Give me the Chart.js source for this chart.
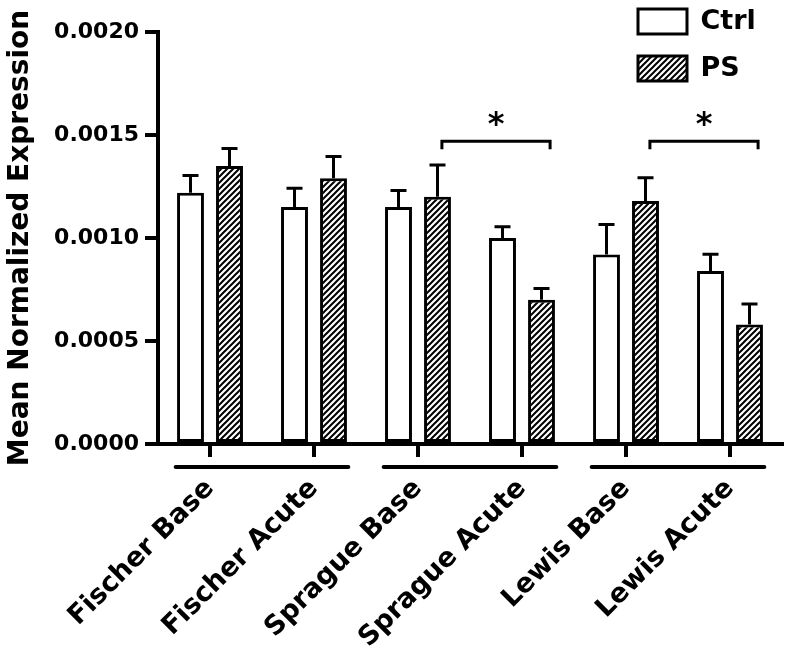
<!DOCTYPE html>
<html><head><meta charset="utf-8">
<script src="https://cdn.jsdelivr.net/npm/chart.js@4.4.0/dist/chart.umd.min.js"></script>
<style>html,body{margin:0;padding:0;background:#fff}</style>
</head><body>
<canvas id="c" width="788" height="648"></canvas>
<script>
const categories = ['Fischer Base','Fischer Acute','Sprague Base','Sprague Acute','Lewis Base','Lewis Acute'];
const ctrlMean = [0.00122, 0.00115, 0.00115, 0.00100, 0.00092, 0.00084];
const ctrlErr  = [0.000084, 0.000091, 0.000080, 0.000055, 0.000146, 0.000081];
const psMean   = [0.00135, 0.00129, 0.00120, 0.00070, 0.00118, 0.00058];
const psErr    = [0.000085, 0.000106, 0.000154, 0.000055, 0.000113, 0.000100];
const yTickValues = [0, 0.0005, 0.0010, 0.0015, 0.0020];
const sigPairs = [[2,3],[4,5]];
const sigLabels = ['*','*'];
const sigLevel = 0.00147;
const groupPairs = [[0,1],[2,3],[4,5]];

const FONT = "'DejaVu Sans', sans-serif";
const canvas = document.getElementById('c');
const mainCtx = canvas.getContext('2d');

function makeHatch() {
  const s = 6;
  const c = document.createElement('canvas'); c.width = s; c.height = s;
  const g = c.getContext('2d');
  g.fillStyle = '#fff'; g.fillRect(0,0,s,s);
  g.strokeStyle = '#000'; g.lineWidth = 2;
  g.beginPath();
  g.moveTo(-1, s+1); g.lineTo(s+1, -1);
  g.moveTo(-1, 1); g.lineTo(1, -1);
  g.moveTo(s-1, s+1); g.lineTo(s+1, s-1);
  g.stroke();
  return mainCtx.createPattern(c, 'repeat');
}
const hatch = makeHatch();

const annot = {
  id: 'annot',
  afterLayout(chart) {
    const lg = chart.legend;
    const w = lg.width, h = lg.height;
    lg.left = 618; lg.right = 618 + Math.max(w, 165);
    lg.top = -12; lg.bottom = -12 + h;
  },
  afterDatasetsDraw(chart) {
    const ctx = chart.ctx, ys = chart.scales.y, xs = chart.scales.x;
    const means = [ctrlMean, psMean], errs = [ctrlErr, psErr];
    ctx.save();
    ctx.strokeStyle = '#000'; ctx.lineWidth = 3; ctx.lineCap = 'butt';
    for (let d = 0; d < 2; d++) {
      chart.getDatasetMeta(d).data.forEach((bar, i) => {
        const yb = ys.getPixelForValue(means[d][i]);
        const yt = ys.getPixelForValue(means[d][i] + errs[d][i]);
        ctx.beginPath();
        ctx.moveTo(bar.x, yb); ctx.lineTo(bar.x, yt);
        ctx.moveTo(bar.x - 8, yt); ctx.lineTo(bar.x + 8, yt);
        ctx.stroke();
      });
    }
    const catW = xs.getPixelForValue(1) - xs.getPixelForValue(0);
    // significance brackets
    const yb = ys.getPixelForValue(sigLevel);
    sigPairs.forEach((p, k) => {
      const x1 = xs.getPixelForValue(p[0]) + 0.23 * catW;
      const x2 = xs.getPixelForValue(p[1]) + 0.27 * catW;
      ctx.beginPath();
      ctx.moveTo(x1, yb + 8); ctx.lineTo(x1, yb); ctx.lineTo(x2, yb); ctx.lineTo(x2, yb + 8);
      ctx.stroke();
      ctx.fillStyle = '#000';
      ctx.font = 'bold 32px ' + FONT;
      ctx.textAlign = 'center'; ctx.textBaseline = 'middle';
      ctx.fillText(sigLabels[k], (x1 + x2) / 2, yb - 15);
    });
    // group underlines
    const gy = chart.chartArea.bottom + 23;
    ctx.lineWidth = 4; ctx.lineCap = 'round';
    groupPairs.forEach(p => {
      ctx.beginPath();
      ctx.moveTo(xs.getPixelForValue(p[0]) - 0.33 * catW, gy);
      ctx.lineTo(xs.getPixelForValue(p[1]) + 0.33 * catW, gy);
      ctx.stroke();
    });
    ctx.restore();
  }
};

new Chart(canvas, {
  type: 'bar',
  data: {
    labels: categories,
    datasets: [
      { label: 'Ctrl', data: ctrlMean, backgroundColor: '#fff', borderColor: '#000', borderWidth: 3, borderSkipped: false,
        categoryPercentage: 0.75, barPercentage: 0.69 },
      { label: 'PS', data: psMean, backgroundColor: hatch, borderColor: '#000', borderWidth: 3, borderSkipped: false,
        categoryPercentage: 0.75, barPercentage: 0.69 }
    ]
  },
  options: {
    responsive: false,
    animation: false,
    devicePixelRatio: 1,
    layout: { padding: { top: 32, right: 6, bottom: 0, left: 0 } },
    plugins: {
      legend: {
        position: 'chartArea', align: 'start',
        labels: { boxWidth: 49, boxHeight: 25, padding: 20, color: '#000',
                  font: { family: FONT, size: 27, weight: 'bold' } }
      },
      tooltip: { enabled: false }
    },
    scales: {
      x: {
        grid: { display: true, drawOnChartArea: false, drawTicks: true, tickLength: 13, lineWidth: 4, color: '#000', offset: false },
        border: { display: true, color: '#000', width: 4 },
        ticks: { color: '#000', autoSkip: false, minRotation: 45, maxRotation: 45, padding: 16,
                 font: { family: FONT, size: 27, weight: 'bold' } },
        afterFit(s) { s.height = 204; }
      },
      y: {
        min: 0, max: 0.002,
        afterBuildTicks(s) { s.ticks = yTickValues.map(v => ({ value: v })); },
        grid: { display: true, drawOnChartArea: false, drawTicks: true, tickLength: 13, lineWidth: 4, color: '#000' },
        border: { display: true, color: '#000', width: 4 },
        ticks: { color: '#000', padding: 6, font: { family: FONT, size: 22, weight: 'bold' },
                 callback: v => Number(v).toFixed(4) },
        title: { display: true, text: 'Mean Normalized Expression', color: '#000',
                 font: { family: FONT, size: 28, weight: 'bold' }, padding: { top: 4, bottom: 0 } },
        afterFit(s) { s.width = 158; }
      }
    }
  },
  plugins: [annot]
});
</script>
</body></html>
